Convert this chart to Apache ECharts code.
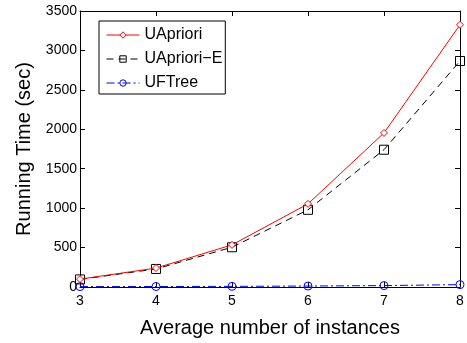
<!DOCTYPE html>
<html>
<head>
<meta charset="utf-8">
<script src="https://cdn.jsdelivr.net/npm/echarts@6/dist/echarts.min.js"></script>
<style>
  html, body { margin: 0; padding: 0; background: #fff; }
  #chart { width: 467px; height: 343px; }
</style>
</head>
<body>
<div id="chart"></div>
<script>
// Average number of instances per tuple
const instances = [3, 4, 5, 6, 7, 8];
// Running time in seconds for each algorithm
const uapriori  = [100, 240, 534, 1054, 1954, 3325];
const uaprioriE = [96, 229, 504, 979, 1741, 2866];
const uftree    = [5, 6, 8, 12, 18, 30];
const yTicks = [0, 500, 1000, 1500, 2000, 2500, 3000, 3500];

const font = 'Liberation Sans, Arial, Helvetica, sans-serif';
const pair = (xs, ys) => xs.map((x, i) => [x, ys[i]]);

const chart = echarts.init(document.getElementById('chart'));

const frameX = {
  type: 'value', min: 3, max: 8, interval: 1,
  axisLine: { show: true, onZero: false, lineStyle: { color: '#000', width: 1 } },
  axisTick: { show: true, inside: true, length: 5, lineStyle: { color: '#000' } },
  splitLine: { show: false }
};
const frameY = {
  type: 'value', min: yTicks[0], max: yTicks[yTicks.length - 1], interval: 500,
  axisLine: { show: true, onZero: false, lineStyle: { color: '#000', width: 1 } },
  axisTick: { show: true, inside: true, length: 5, lineStyle: { color: '#000' } },
  splitLine: { show: false }
};

chart.setOption({
  animation: false,
  backgroundColor: '#fff',
  grid: { left: 80, right: 7, top: 11, bottom: 52, containLabel: false },
  xAxis: [
    Object.assign({}, frameX, {
      position: 'bottom',
      name: 'Average number of instances',
      nameLocation: 'middle', nameGap: 31,
      nameTextStyle: { color: '#000', fontSize: 20, fontFamily: font },
      axisLabel: { color: '#000', fontSize: 14, fontFamily: font, margin: 7 }
    }),
    Object.assign({}, frameX, { position: 'top', axisLabel: { show: false } })
  ],
  yAxis: [
    Object.assign({}, frameY, {
      position: 'left',
      name: 'Running Time (sec)',
      nameLocation: 'middle', nameGap: 46,
      nameTextStyle: { color: '#000', fontSize: 20, fontFamily: font },
      axisLabel: { color: '#000', fontSize: 14, fontFamily: font, margin: 3,
                   formatter: v => String(v) }
    }),
    Object.assign({}, frameY, { position: 'right', axisLabel: { show: false } })
  ],
  legend: {
    orient: 'vertical',
    left: 99, top: 21,
    padding: [6, 3, 3, 7],
    itemGap: 8,
    itemWidth: 33, itemHeight: 8,
    backgroundColor: '#fff',
    borderColor: '#000', borderWidth: 1,
    lineStyle: { width: 1 },
    itemStyle: { borderWidth: 1 },
    textStyle: { color: '#000', fontSize: 16, fontFamily: font, lineHeight: 14 },
    data: ['UApriori', 'UApriori\u2212E', 'UFTree']
  },
  series: [
    {
      name: 'UApriori', type: 'line', data: pair(instances, uapriori),
      symbol: 'diamond', symbolSize: 7,
      itemStyle: { color: '#fff', borderColor: '#ff0000', borderWidth: 1 },
      lineStyle: { color: '#ff0000', width: 1 },
      z: 4
    },
    {
      name: 'UApriori\u2212E', type: 'line', data: pair(instances, uaprioriE),
      symbol: 'rect', symbolSize: 9,
      itemStyle: { color: 'rgba(255,255,255,0)', borderColor: '#000', borderWidth: 1 },
      lineStyle: { color: '#000', width: 1, type: [7, 5] },
      z: 3
    },
    {
      name: 'UFTree', type: 'line', data: pair(instances, uftree),
      symbol: 'circle', symbolSize: 8,
      itemStyle: { color: 'rgba(255,255,255,0)', borderColor: '#0000ff', borderWidth: 1 },
      lineStyle: { color: '#0000ff', width: 1, type: [8, 3, 2, 3] },
      z: 2
    }
  ]
});
</script>
</body>
</html>
